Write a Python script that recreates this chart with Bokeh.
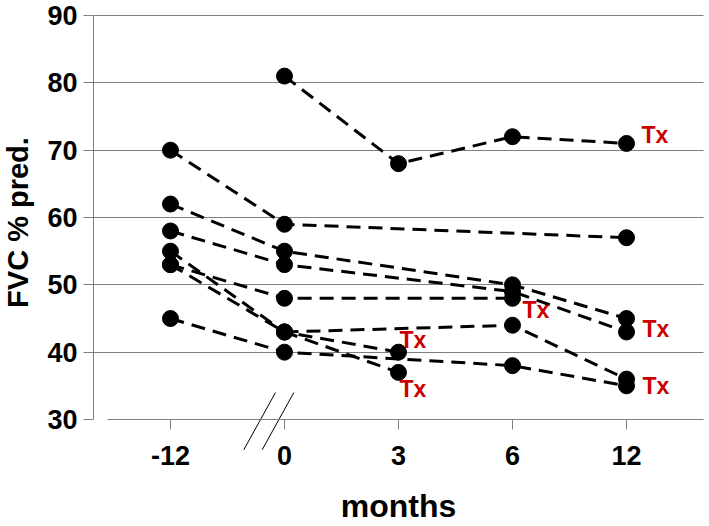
import math
from bokeh.plotting import figure
from bokeh.models import Range1d, FixedTicker, Label
from bokeh.embed import file_html
from bokeh.resources import INLINE

# ---------------- data ----------------
months = ["-12", "0", "3", "6", "12"]

fvc_a = [None, 81, 68, 72, 71]
fvc_b = [70, 59, None, None, 57]
fvc_c = [62, 55, None, 50, 45]
fvc_d = [58, 53, None, 49, 43]
fvc_e = [53, 48, None, 48, None]
fvc_f = [55, 43, 40, None, None]
fvc_g = [53, 43, 37, None, None]
fvc_h = [None, 43, None, 44, 36]
fvc_i = [45, 40, None, 38, 35]
series = [fvc_a, fvc_b, fvc_c, fvc_d, fvc_e, fvc_f, fvc_g, fvc_h, fvc_i]

y_ticks = [30, 40, 50, 60, 70, 80, 90]

# "Tx" (transplant) annotations: month, value
tx_months = ["12", "3", "3", "6", "12", "12"]
tx_values = [71, 40, 37, 48, 43, 35]

# ---------------- layout / style ----------------
FONT = "Liberation Sans"
GRID = "#7f7f7f"
RED = "#cc0000"
tx_dx = [15, 1, 1, 10, 16, 16]
tx_dy = [8, 12, -17, -12, 3, 0]

X_LO, X_HI = -1.491, 4.728      # visible x extent (category index units)
Y_LO, Y_HI = 14.11, 92.23       # visible y extent
Y_AXIS_AT = -0.675              # where the value axis sits
X_AXIS_START = -0.553           # where the month axis line starts
RIGHT_END = 4.675               # right end of grid lines / month axis

p = figure(width=709, height=526,
           x_range=Range1d(X_LO, X_HI), y_range=Range1d(Y_LO, Y_HI),
           output_backend="svg", toolbar_location=None,
           min_border_left=0, min_border_right=0,
           min_border_top=0, min_border_bottom=0)
p.outline_line_color = None
p.background_fill_color = "white"
p.border_fill_color = "white"

# grid (horizontal only, from the value axis to the right edge)
p.xgrid.grid_line_color = None
p.ygrid.ticker = FixedTicker(ticks=y_ticks[1:])
try:
    p.ygrid.cross_bounds = (Y_AXIS_AT, RIGHT_END)
    p.ygrid.grid_line_color = GRID
    p.ygrid.grid_line_width = 1.2
except Exception:
    p.ygrid.grid_line_color = None
    gy = y_ticks[1:]
    p.segment(x0=[Y_AXIS_AT] * len(gy), y0=gy, x1=[RIGHT_END] * len(gy), y1=gy,
              line_color=GRID, line_width=1.2)

# y axis
p.yaxis.fixed_location = Y_AXIS_AT
p.yaxis.ticker = FixedTicker(ticks=y_ticks)
p.yaxis.bounds = (y_ticks[0], y_ticks[-1])
p.yaxis.axis_line_color = GRID
p.yaxis.major_tick_line_color = GRID
p.yaxis.minor_tick_line_color = None
p.yaxis.major_tick_out = 10
p.yaxis.major_tick_in = 0
p.yaxis.major_label_standoff = 6
p.yaxis.major_label_text_font = FONT
p.yaxis.major_label_text_font_style = "bold"
p.yaxis.major_label_text_font_size = "27px"
p.yaxis.major_label_text_color = "black"

# x axis at y = 30
xs_idx = list(range(len(months)))
p.xaxis.fixed_location = y_ticks[0]
p.xaxis.ticker = FixedTicker(ticks=xs_idx)
p.xaxis.major_label_overrides = {i: m for i, m in enumerate(months)}
p.xaxis.bounds = (X_AXIS_START, RIGHT_END)
p.xaxis.axis_line_color = GRID
p.xaxis.major_tick_line_color = GRID
p.xaxis.minor_tick_line_color = None
p.xaxis.major_tick_out = 10
p.xaxis.major_tick_in = 0
p.xaxis.major_label_standoff = 16
p.xaxis.major_label_text_font = FONT
p.xaxis.major_label_text_font_style = "bold"
p.xaxis.major_label_text_font_size = "27px"
p.xaxis.major_label_text_color = "black"

# axis titles
p.add_layout(Label(x=X_LO, y=(y_ticks[0] + y_ticks[-1]) / 2, x_offset=17, y_offset=-5,
                   text="FVC % pred.", angle=math.pi / 2,
                   text_font=FONT, text_font_style="bold", text_font_size="29px",
                   text_color="black", text_align="center", text_baseline="middle"))
p.add_layout(Label(x=(len(months) - 1) / 2, y=y_ticks[0], y_offset=-86,
                   text="months",
                   text_font=FONT, text_font_style="bold", text_font_size="32px",
                   text_color="black", text_align="center", text_baseline="middle"))

# series: dashed lines and filled circles
for s in series:
    xi = [i for i, v in enumerate(s) if v is not None]
    yv = [v for v in s if v is not None]
    p.line(xi, yv, line_color="black", line_width=3, line_dash="14 8")
for s in series:
    xi = [i for i, v in enumerate(s) if v is not None]
    yv = [v for v in s if v is not None]
    p.scatter(xi, yv, marker="circle", size=16, fill_color="black", line_color="black")

# Tx labels
for m, v, dx, dy in zip(tx_months, tx_values, tx_dx, tx_dy):
    p.add_layout(Label(x=months.index(m), y=v, text="Tx", x_offset=dx, y_offset=dy,
                       text_font=FONT, text_font_style="bold", text_font_size="23px",
                       text_color=RED, text_align="left", text_baseline="middle"))

# axis break marks between -12 and 0
brk_x0 = [0.643, 0.804]
p.segment(x0=brk_x0, y0=[25.5, 25.5], x1=[b + 0.278 for b in brk_x0], y1=[34.0, 34.0],
          line_color="black", line_width=1)

open("out.html", "w").write(file_html(p, INLINE))
